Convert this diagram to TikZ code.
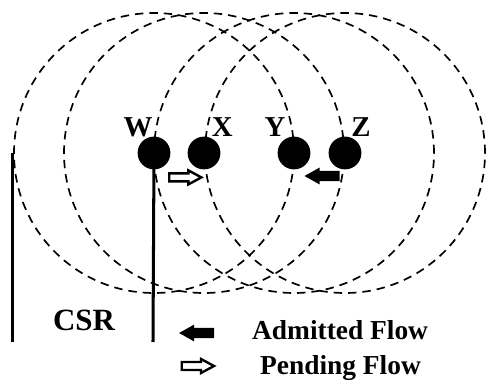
\documentclass[tikz,border=0pt]{standalone}
\usepackage{fontspec}
\setmainfont{Liberation Serif}
\tikzset{
	senserange/.style={line width=2.4pt, dash pattern=on 12pt off 8.5pt},
	station/.style={circle, fill=black, inner sep=0pt, minimum size=1.64cm},
	stationlabel/.style={font=\fontsize{41}{45}\selectfont\bfseries, inner sep=0pt, anchor=base},
	legendtext/.style={font=\fontsize{39}{43}\selectfont\bfseries, inner sep=0pt, anchor=base west},
	admittedflow/.pic={
		\fill[black] (0.875, 0.26) -- (-0.125, 0.26) -- (-0.125, 0.42) -- (-0.875, 0) -- (-0.125, -0.42) -- (-0.125, -0.26) -- (0.875, -0.26) -- cycle;
	},
	pendingflow/.pic={
		\draw[line width=3.4pt, fill=white, line join=miter] (-0.81, 0.2) -- (0.15, 0.2) -- (0.15, 0.35) -- (0.8, 0) -- (0.15, -0.35) -- (0.15, -0.2) -- (-0.81, -0.2) -- cycle;
	}
}

\begin{document}
\begin{tikzpicture}
		%%%%% START %%%%%
		\useasboundingbox (0, 0) rectangle (24.35, 19.3);
		
		% stations
		\coordinate (w0) at (7.7, 11.65);
		\coordinate (x0) at (10.2, 11.65);
		\coordinate (y0) at (14.7, 11.65);
		\coordinate (z0) at (17.25, 11.65);
		
		% carrier sense ranges
		\draw[senserange] (w0) circle (7.0);
		\draw[senserange] (x0) circle (7.0);
		\draw[senserange] (y0) circle (7.0);
		\draw[senserange] (z0) circle (7.0);
		
		% CSR marks
		\coordinate (csrtop) at (0.62, 11.65);
		\coordinate (csrfoot) at (0.62, 2.2);
		\coordinate (wfoot) at (7.65, 2.2);
		\draw[line width=4.3pt] (csrtop) -- (csrfoot);
		\draw[line width=4.3pt] (w0) -- (wfoot);
		
		\node[station] (W) at (w0) {};
		\node[station] (X) at (x0) {};
		\node[station] (Y) at (y0) {};
		\node[station] (Z) at (z0) {};
		
		\node[stationlabel] (wlab) at (6.9, 12.47) {W};
		\node[stationlabel] (xlab) at (11.12, 12.47) {X};
		\node[stationlabel] (ylab) at (13.75, 12.47) {Y};
		\node[stationlabel] (zlab) at (18.05, 12.47) {Z};
		
		% flows
		\pic (wx) at (9.27, 10.43) {pendingflow};
		\pic (zy) at (16.1, 10.5) {admittedflow};
		
		% legend
		\node[font=\fontsize{44}{48}\selectfont\bfseries, inner sep=0pt, anchor=base west] (csr) at (2.65, 2.77) {CSR};
		\pic (akey) at (9.83, 2.65) {admittedflow};
		\pic (pkey) at (9.9, 1.0) {pendingflow};
		\node[legendtext] (atext) at (12.6, 2.3) {Admitted Flow};
		\node[legendtext] (ptext) at (13.0, 0.6) {Pending Flow};
		
		%%%%% END %%%%%
	\end{tikzpicture}
\end{document}
